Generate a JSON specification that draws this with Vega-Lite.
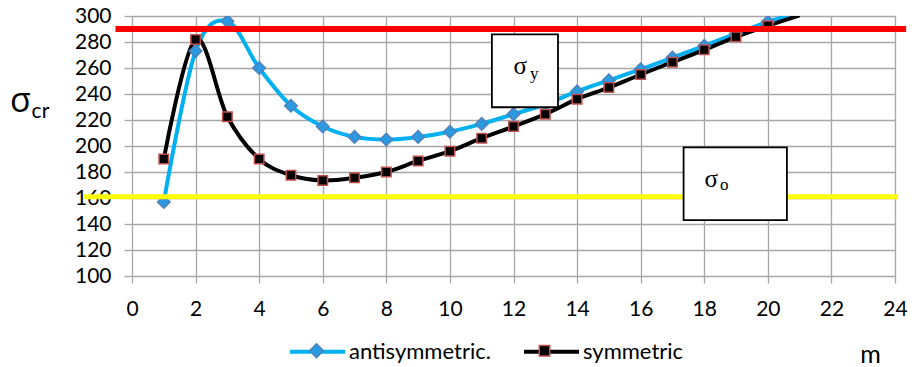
{
  "$schema": "https://vega.github.io/schema/vega-lite/v6.json",
  "width": 763,
  "height": 260,
  "autosize": "none",
  "padding": {"left": 132, "top": 16, "right": 17, "bottom": 91},
  "background": "white",
  "config": {"view": {"stroke": null}, "font": "Lato"},
  "datasets": {
    "curves": [
      {"m": 1, "value": 157, "series": "antisymmetric."},
      {"m": 2, "value": 273, "series": "antisymmetric."},
      {"m": 3, "value": 296, "series": "antisymmetric."},
      {"m": 4, "value": 260, "series": "antisymmetric."},
      {"m": 5, "value": 231, "series": "antisymmetric."},
      {"m": 6, "value": 215, "series": "antisymmetric."},
      {"m": 7, "value": 207, "series": "antisymmetric."},
      {"m": 8, "value": 205, "series": "antisymmetric."},
      {"m": 9, "value": 207, "series": "antisymmetric."},
      {"m": 10, "value": 211, "series": "antisymmetric."},
      {"m": 11, "value": 217, "series": "antisymmetric."},
      {"m": 12, "value": 224.5, "series": "antisymmetric."},
      {"m": 13, "value": 232, "series": "antisymmetric."},
      {"m": 14, "value": 242, "series": "antisymmetric."},
      {"m": 15, "value": 250.5, "series": "antisymmetric."},
      {"m": 16, "value": 259, "series": "antisymmetric."},
      {"m": 17, "value": 268, "series": "antisymmetric."},
      {"m": 18, "value": 277, "series": "antisymmetric."},
      {"m": 19, "value": 286.5, "series": "antisymmetric."},
      {"m": 20, "value": 295.5, "series": "antisymmetric."},
      {"m": 21, "value": 303, "series": "antisymmetric."},
      {"m": 1, "value": 190, "series": "symmetric"},
      {"m": 2, "value": 282, "series": "symmetric"},
      {"m": 3, "value": 222.5, "series": "symmetric"},
      {"m": 4, "value": 190, "series": "symmetric"},
      {"m": 5, "value": 177.5, "series": "symmetric"},
      {"m": 6, "value": 173.5, "series": "symmetric"},
      {"m": 7, "value": 175.5, "series": "symmetric"},
      {"m": 8, "value": 180, "series": "symmetric"},
      {"m": 9, "value": 188.5, "series": "symmetric"},
      {"m": 10, "value": 196, "series": "symmetric"},
      {"m": 11, "value": 206, "series": "symmetric"},
      {"m": 12, "value": 215, "series": "symmetric"},
      {"m": 13, "value": 224.5, "series": "symmetric"},
      {"m": 14, "value": 236, "series": "symmetric"},
      {"m": 15, "value": 245, "series": "symmetric"},
      {"m": 16, "value": 255, "series": "symmetric"},
      {"m": 17, "value": 264.5, "series": "symmetric"},
      {"m": 18, "value": 274, "series": "symmetric"},
      {"m": 19, "value": 284, "series": "symmetric"},
      {"m": 20, "value": 292.5, "series": "symmetric"},
      {"m": 21, "value": 300.5, "series": "symmetric"}
    ]
  },
  "layer": [
    {
      "data": {"name": "curves"},
      "mark": {"type": "line", "interpolate": "cardinal", "strokeWidth": 4, "clip": true},
      "encoding": {
        "x": {
          "field": "m", "type": "quantitative",
          "scale": {"domain": [0, 24], "nice": false},
          "axis": {
            "values": [0, 2, 4, 6, 8, 10, 12, 14, 16, 18, 20, 22, 24], "tickCount": 30,
            "grid": true, "gridColor": "#a6a6a6", "gridWidth": 1.3,
            "domain": false, "tickColor": "#a6a6a6", "tickSize": 7, "tickWidth": 1.3,
            "labelFont": "Lato", "labelFontSize": 21, "labelColor": "#000000", "labelPadding": 15,
            "labelOverlap": false, "labelFlush": false,
            "title": "m", "titleFont": "Lato", "titleFontSize": 25, "titleFontWeight": "normal",
            "titleColor": "#000000", "titleX": 738, "titleY": 91, "titleBaseline": "bottom", "titleAlign": "center"
          }
        },
        "y": {
          "field": "value", "type": "quantitative",
          "scale": {"domain": [100, 300], "nice": false},
          "axis": {
            "values": [100, 120, 140, 160, 180, 200, 220, 240, 260, 280, 300], "tickCount": 30,
            "grid": true, "gridColor": "#a6a6a6", "gridWidth": 1.3,
            "domain": false, "tickColor": "#a6a6a6", "tickSize": 8, "tickWidth": 1.3,
            "labelFont": "Lato", "labelFontSize": 21, "labelColor": "#000000", "labelPadding": 13,
            "labelOverlap": false, "labelFlush": false,
            "title": "σ", "titleFont": "Open Sans", "titleFontSize": 34, "titleFontWeight": "normal",
            "titleColor": "#000000", "titleAngle": 0, "titleX": -112, "titleY": 85,
            "titleBaseline": "middle", "titleAlign": "center"
          }
        },
        "color": {
          "field": "series", "type": "nominal",
          "scale": {"domain": ["antisymmetric.", "symmetric"], "range": ["#00b0f0", "#000000"]},
          "legend": {
            "orient": "none", "direction": "horizontal", "title": null,
            "legendX": 156, "legendY": 306,
            "symbolType": "stroke", "symbolSize": 3025, "symbolStrokeWidth": 4,
            "labelFont": "Lato", "labelFontSize": 22, "labelColor": "#000000",
            "labelOffset": 2, "columnPadding": 25, "labelLimit": 0
          }
        }
      }
    },
    {
      "data": {"name": "curves"},
      "transform": [{"filter": "datum.value <= 300"}],
      "mark": {"type": "point", "filled": true, "size": 2500, "strokeWidth": 1.5, "opacity": 1, "clip": true},
      "encoding": {
        "x": {"field": "m", "type": "quantitative"},
        "y": {"field": "value", "type": "quantitative"},
        "shape": {
          "field": "series", "type": "nominal",
          "scale": {"range": ["M0,-0.25L0.25,0L0,0.25L-0.25,0Z", "M-0.19,-0.19H0.19V0.19H-0.19Z"]},
          "legend": {
            "orient": "none", "direction": "horizontal", "title": null,
            "legendX": 156, "legendY": 306,
            "symbolSize": 3025, "symbolStrokeWidth": 1.5,
            "labelExpr": "''", "labelFontSize": 22,
            "labelOffset": 2, "columnPadding": 169, "labelLimit": 0
          }
        },
        "fill": {"field": "series", "type": "nominal", "scale": {"range": ["#2a9be0", "#000000"]}},
        "stroke": {"field": "series", "type": "nominal", "scale": {"range": ["#4f81bd", "#c0504d"]}}
      }
    },
    {
      "data": {"values": [{"stress": "σy", "value": 290}]},
      "mark": {"type": "rule", "color": "#ff0000", "strokeWidth": 6},
      "encoding": {
        "y": {"field": "value", "type": "quantitative"},
        "x": {"datum": -0.52, "type": "quantitative"},
        "x2": {"datum": 24.35}
      }
    },
    {
      "data": {"values": [{"stress": "σo", "value": 161}]},
      "mark": {"type": "rule", "color": "#ffff00", "strokeWidth": 5},
      "encoding": {
        "y": {"field": "value", "type": "quantitative"},
        "x": {"datum": -1.53, "type": "quantitative"},
        "x2": {"datum": 24.1}
      }
    },
    {
      "data": {"values": [{"symbol": "σ", "sub": "y"}]},
      "layer": [
        {
          "mark": {"type": "rect", "fill": "white", "stroke": "black", "strokeWidth": 1.8},
          "encoding": {
            "x": {"datum": 11.32, "type": "quantitative"}, "x2": {"datum": 13.4},
            "y": {"datum": 229.8, "type": "quantitative"}, "y2": {"datum": 285.9}
          }
        },
        {
          "mark": {"type": "text", "font": "Liberation Serif", "fontSize": 25, "align": "center", "baseline": "middle", "color": "black"},
          "encoding": {
            "text": {"field": "symbol"},
            "x": {"datum": 12.21, "type": "quantitative"},
            "y": {"datum": 261.5, "type": "quantitative"}
          }
        },
        {
          "mark": {"type": "text", "font": "Liberation Serif", "fontSize": 17, "align": "center", "baseline": "middle", "color": "black"},
          "encoding": {
            "text": {"field": "sub"},
            "x": {"datum": 12.65, "type": "quantitative"},
            "y": {"datum": 255.4, "type": "quantitative"}
          }
        }
      ]
    },
    {
      "data": {"values": [{"symbol": "σ", "sub": "o"}]},
      "layer": [
        {
          "mark": {"type": "rect", "fill": "white", "stroke": "black", "strokeWidth": 1.8},
          "encoding": {
            "x": {"datum": 17.35, "type": "quantitative"}, "x2": {"datum": 20.6},
            "y": {"datum": 143, "type": "quantitative"}, "y2": {"datum": 199}
          }
        },
        {
          "mark": {"type": "text", "font": "Liberation Serif", "fontSize": 25, "align": "center", "baseline": "middle", "color": "black"},
          "encoding": {
            "text": {"field": "symbol"},
            "x": {"datum": 18.22, "type": "quantitative"},
            "y": {"datum": 174.6, "type": "quantitative"}
          }
        },
        {
          "mark": {"type": "text", "font": "Liberation Serif", "fontSize": 17, "align": "center", "baseline": "middle", "color": "black"},
          "encoding": {
            "text": {"field": "sub"},
            "x": {"datum": 18.63, "type": "quantitative"},
            "y": {"datum": 170, "type": "quantitative"}
          }
        }
      ]
    },
    {
      "data": {"values": [{"sub": "cr"}]},
      "mark": {"type": "text", "font": "Lato", "fontSize": 21, "align": "center", "baseline": "middle", "color": "black"},
      "encoding": {
        "text": {"field": "sub"},
        "x": {"datum": -2.88, "type": "quantitative"},
        "y": {"datum": 226.5, "type": "quantitative"}
      }
    }
  ]
}
